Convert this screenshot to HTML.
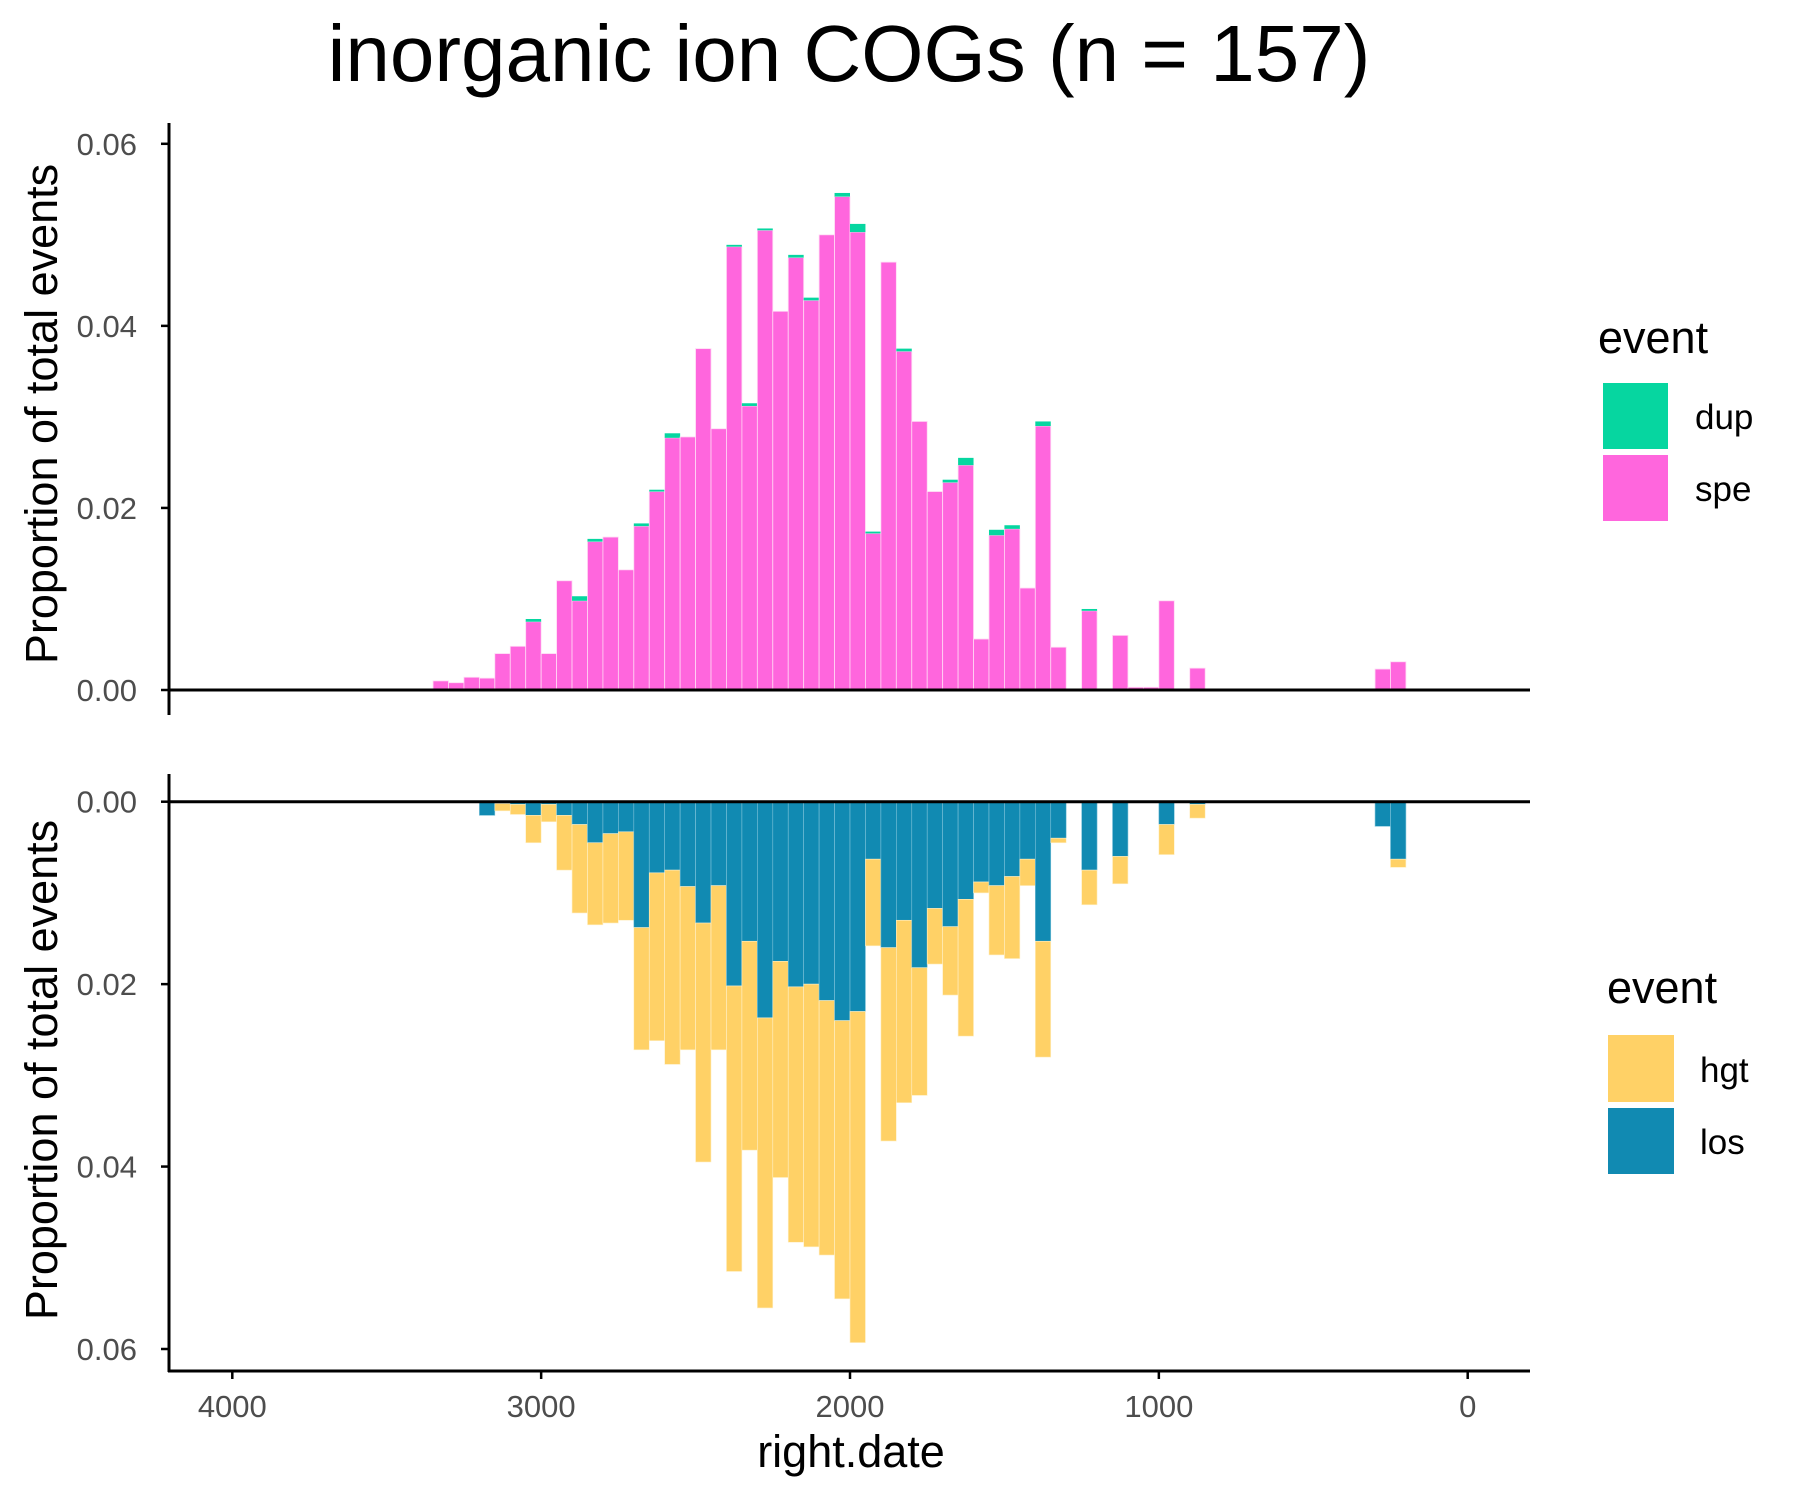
<!DOCTYPE html>
<html><head><meta charset="utf-8"><style>
html,body{margin:0;padding:0;background:#fff;}
svg{display:block;font-family:"Liberation Sans",sans-serif;}
</style></head><body>
<svg id="chart" width="1800" height="1500" viewBox="0 0 1800 1500" xmlns="http://www.w3.org/2000/svg">
<rect width="1800" height="1500" fill="#fff"/>
<text x="849" y="81" font-size="80" text-anchor="middle" fill="#000">inorganic ion COGs (n = 157)</text>
<g id="topPanel"></g>
<g id="botPanel"></g>
<text transform="translate(57,414) rotate(-90)" font-size="45" text-anchor="middle" fill="#000">Proportion of total events</text>
<text transform="translate(57,1070) rotate(-90)" font-size="45" text-anchor="middle" fill="#000">Proportion of total events</text>
<text x="851" y="1467" font-size="45" text-anchor="middle" fill="#000">right.date</text>
<g>
<text x="1598" y="353" font-size="45" fill="#000">event</text>
<rect x="1603" y="383" width="65" height="66" fill="#06D6A0"/>
<rect x="1603" y="455" width="65" height="66" fill="#FF66DD"/>
<text x="1695" y="429" font-size="35" fill="#000">dup</text>
<text x="1695" y="501" font-size="35" fill="#000">spe</text>
</g>
<g>
<text x="1607" y="1003" font-size="45" fill="#000">event</text>
<rect x="1608" y="1035" width="66" height="67" fill="#FFD166"/>
<rect x="1608" y="1108" width="66" height="66" fill="#118AB2"/>
<text x="1700" y="1082" font-size="35" fill="#000">hgt</text>
<text x="1700" y="1154" font-size="35" fill="#000">los</text>
</g>
</svg>
<script>
// bin left edges (date), width 50
const binStart = [3350,3300,3250,3200,3150,3100,3050,3000,2950,2900,2850,2800,2750,2700,2650,2600,2550,2500,2450,2400,2350,2300,2250,2200,2150,2100,2050,2000,1950,1900,1850,1800,1750,1700,1650,1600,1550,1500,1450,1400,1350,1300,1250,1200,1150,1100,1050,1000,950,900,300,250];
const speVals = [0.001,0.0008,0.0014,0.0013,0.004,0.0048,0.0075,0.004,0.012,0.0098,0.0163,0.0168,0.0132,0.018,0.0218,0.0277,0.0278,0.0375,0.0287,0.0487,0.0312,0.0505,0.0416,0.0475,0.0428,0.05,0.0542,0.0503,0.0172,0.047,0.0372,0.0295,0.0218,0.0228,0.0247,0.0056,0.017,0.0177,0.0112,0.029,0.0047,0,0.0087,0,0.006,0.0003,0.0003,0.0098,0,0.0024,0.0023,0.0031];
const dupVals = [0,0,0,0,0,0,0.0003,0,0,0.0005,0.0003,0,0,0.0003,0.0002,0.0005,0,0,0,0.0002,0.0003,0.0002,0,0.0003,0.0003,0,0.0004,0.0009,0.0002,0,0.0003,0,0,0.0003,0.0008,0,0.0006,0.0004,0,0.0005,0,0,0.0002,0,0,0,0,0,0,0,0,0];
const binStartB = [3200,3150,3100,3050,3000,2950,2900,2850,2800,2750,2700,2650,2600,2550,2500,2450,2400,2350,2300,2250,2200,2150,2100,2050,2000,1950,1900,1850,1800,1750,1700,1650,1600,1550,1500,1450,1400,1350,1250,1150,1000,900,300,250];
const losVals = [0.0015,0.0002,0.0003,0.0015,0.0003,0.0015,0.0025,0.0045,0.0035,0.0033,0.0138,0.0078,0.0075,0.0093,0.0133,0.0092,0.0202,0.0153,0.0237,0.0175,0.0203,0.02,0.0218,0.024,0.023,0.0063,0.016,0.013,0.0182,0.0117,0.0137,0.0107,0.0088,0.0092,0.0082,0.0063,0.0153,0.004,0.0075,0.006,0.0025,0.0003,0.0027,0.0063];
const hgtVals = [0,0.0008,0.0011,0.003,0.0019,0.006,0.0097,0.009,0.0098,0.0097,0.0134,0.0184,0.0213,0.0179,0.0262,0.018,0.0313,0.0229,0.0318,0.0237,0.028,0.0288,0.0279,0.0305,0.0363,0.0095,0.0212,0.02,0.014,0.0061,0.0075,0.015,0.0012,0.0076,0.009,0.0029,0.0127,0.0005,0.0038,0.003,0.0033,0.0015,0,0.0009];
const xTicks = [4000,3000,2000,1000,0];
const yTicks = [0,0.02,0.04,0.06];
const yTickLabels = ["0.00","0.02","0.04","0.06"];

const NS="http://www.w3.org/2000/svg";
const AX_L=169, AX_R=1530;
const xS = d => 232.3 + (4000-d)*(1467.7-232.3)/4000;
const yTop = v => 690 - v*(690-143.8)/0.06;
const yBot = v => 801.7 + v*(1349-801.7)/0.06;
function mk(parent,tag,attrs){const e=document.createElementNS(NS,tag);for(const k in attrs)e.setAttribute(k,attrs[k]);parent.appendChild(e);return e;}
const gTop=document.getElementById('topPanel'), gBot=document.getElementById('botPanel');

binStart.forEach((d,i)=>{
  const x0=xS(d), x1=xS(d-50);
  if(speVals[i]>0){
    const r=mk(gTop,'rect',{x:x0,y:yTop(speVals[i]),width:x1-x0,height:yTop(0)-yTop(speVals[i]),fill:'#FF66DD',stroke:'#ffd9f4','stroke-width':0.8});
    
    
  }
  if(dupVals[i]>0){
    const t=speVals[i]+dupVals[i];
    const r=mk(gTop,'rect',{x:x0,y:yTop(t),width:x1-x0,height:yTop(speVals[i])-yTop(t),fill:'#06D6A0'});
    
    
  }
});
binStartB.forEach((d,i)=>{
  const x0=xS(d), x1=xS(d-50);
  if(losVals[i]>0){
    const r=mk(gBot,'rect',{x:x0,y:yBot(0),width:x1-x0,height:yBot(losVals[i])-yBot(0),fill:'#118AB2',stroke:'#7fc3da','stroke-width':0.6});
    
    
  }
  if(hgtVals[i]>0){
    const t=losVals[i]+hgtVals[i];
    const r=mk(gBot,'rect',{x:x0,y:yBot(losVals[i]),width:x1-x0,height:yBot(t)-yBot(losVals[i]),fill:'#FFD166',stroke:'#fff0c8','stroke-width':0.6});
    
    
  }
});
let a;
a=mk(gTop,'line',{x1:AX_L,y1:yTop(0),x2:AX_R,y2:yTop(0),stroke:'#000','stroke-width':3});

a=mk(gTop,'line',{x1:AX_L,y1:123,x2:AX_L,y2:715,stroke:'#000','stroke-width':3});

a=mk(gBot,'line',{x1:AX_L,y1:yBot(0),x2:AX_R,y2:yBot(0),stroke:'#000','stroke-width':3});

a=mk(gBot,'line',{x1:AX_L,y1:774,x2:AX_L,y2:1372,stroke:'#000','stroke-width':3});

a=mk(gBot,'line',{x1:AX_L-1,y1:1371,x2:AX_R,y2:1371,stroke:'#000','stroke-width':3});

yTicks.forEach((v,i)=>{
  [[gTop,yTop],[gBot,yBot]].forEach(([g,ys])=>{
    const y=ys(v);
    const t=mk(g,'line',{x1:AX_L-8,y1:y,x2:AX_L,y2:y,stroke:'#000','stroke-width':2.5});
    
    const l=mk(g,'text',{x:137,y:y+11,'font-size':31,'text-anchor':'end',fill:'#4d4d4d'});
    l.textContent=yTickLabels[i];
    
  });
});
xTicks.forEach(d=>{
  const x=xS(d);
  const t=mk(gBot,'line',{x1:x,y1:1371,x2:x,y2:1379,stroke:'#000','stroke-width':2.5});
  
  const l=mk(gBot,'text',{x:x,y:1417,'font-size':31,'text-anchor':'middle',fill:'#4d4d4d'});
  l.textContent=String(d);
  
});
</script>
</body></html>
